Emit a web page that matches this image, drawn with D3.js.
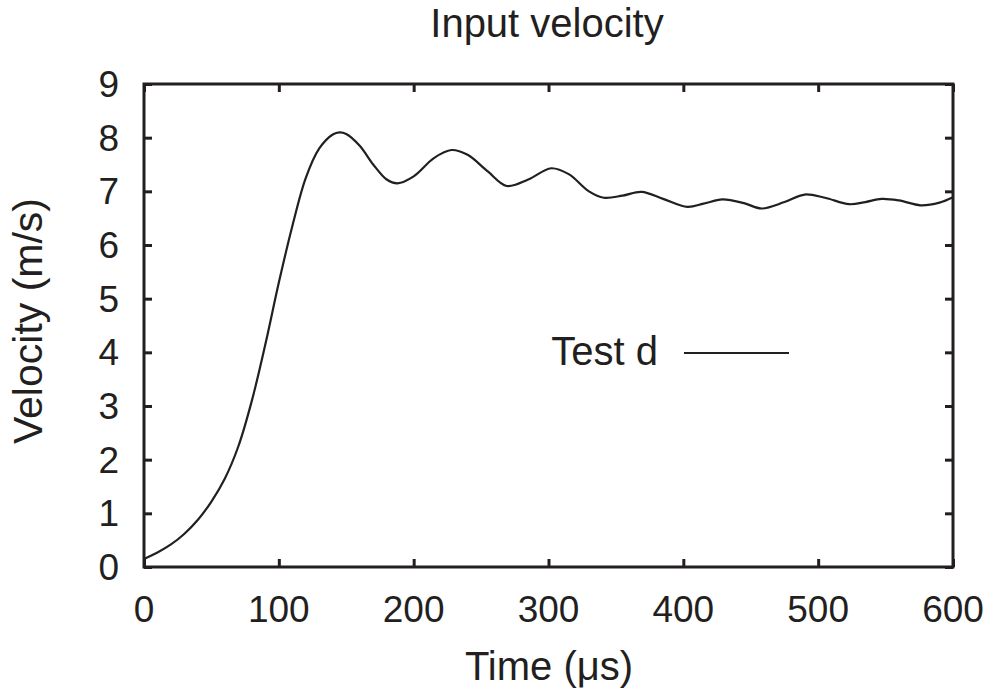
<!DOCTYPE html>
<html>
<head>
<meta charset="utf-8">
<script src="https://cdn.jsdelivr.net/npm/d3@7"></script>
<style>
  body { margin: 0; background: #fff; }
  text { font-family: "Liberation Sans", Arial, sans-serif; fill: #231f20; }
</style>
</head>
<body>
<div class="container"></div>
<script>
// data
const time = [0, 10, 20, 30, 40, 50, 60, 70, 80, 90, 100, 110, 120, 130, 140, 145, 150, 160, 170, 180, 188,
  200, 215, 228, 240, 255, 269, 285, 302, 315, 330, 341, 355, 369, 385, 403, 415, 429, 445, 458,
  475, 490, 505, 523, 535, 547, 560, 576, 590, 600];
const velocity = [0.15, 0.27, 0.42, 0.62, 0.88, 1.22, 1.65, 2.25, 3.1, 4.15, 5.3, 6.35, 7.25, 7.8, 8.06, 8.1, 8.07, 7.85, 7.5, 7.22, 7.15,
  7.28, 7.62, 7.77, 7.68, 7.37, 7.1, 7.22, 7.43, 7.32, 7.0, 6.88, 6.92, 6.99, 6.86, 6.71, 6.77, 6.85, 6.78, 6.68,
  6.8, 6.94, 6.88, 6.76, 6.8, 6.86, 6.83, 6.74, 6.79, 6.89];
const xTicks = [0, 100, 200, 300, 400, 500, 600];
const yTicks = [0, 1, 2, 3, 4, 5, 6, 7, 8, 9];
const seriesName = "Test d";

const width = 996;
const height = 695;
const mLeft = 144, mRight = 953, mTop = 84, mBottom = 567;

const x = d3.scaleLinear().domain([0, 600]).range([mLeft, mRight]);
const y = d3.scaleLinear().domain([0, 9]).range([mBottom, mTop]);

const svg = d3.select("div.container")
  .append("svg")
  .attr("width", width)
  .attr("height", height);

// axes with inward ticks, mirrored on top and right
const tickLen = 8;
svg.append("g").attr("transform", `translate(0,${mBottom})`)
  .call(d3.axisTop(x).tickValues(xTicks).tickSize(tickLen).tickFormat(""));
svg.append("g").attr("transform", `translate(0,${mTop})`)
  .call(d3.axisBottom(x).tickValues(xTicks).tickSize(tickLen).tickFormat(""));
svg.append("g").attr("transform", `translate(${mLeft},0)`)
  .call(d3.axisRight(y).tickValues(yTicks).tickSize(tickLen).tickFormat(""));
svg.append("g").attr("transform", `translate(${mRight},0)`)
  .call(d3.axisLeft(y).tickValues(yTicks).tickSize(tickLen).tickFormat(""));
svg.selectAll(".domain").remove();
svg.selectAll(".tick line").attr("stroke", "#231f20").attr("stroke-width", 3);

// frame
svg.append("rect")
  .attr("x", mLeft).attr("y", mTop)
  .attr("width", mRight - mLeft).attr("height", mBottom - mTop)
  .attr("fill", "none").attr("stroke", "#231f20").attr("stroke-width", 3);

// tick labels
svg.append("g").selectAll("text").data(xTicks).join("text")
  .attr("x", d => x(d)).attr("y", 622)
  .attr("text-anchor", "middle").attr("font-size", 37)
  .text(d => d);
svg.append("g").selectAll("text").data(yTicks).join("text")
  .attr("x", 119).attr("y", d => y(d) + 13)
  .attr("text-anchor", "end").attr("font-size", 37)
  .text(d => d);

// titles
svg.append("text").attr("x", 547).attr("y", 37)
  .attr("text-anchor", "middle").attr("font-size", 40).text("Input velocity");
svg.append("text").attr("x", 549).attr("y", 680)
  .attr("text-anchor", "middle").attr("font-size", 40).text("Time (\u03bcs)");
svg.append("text").attr("transform", "translate(42,321) rotate(-90)")
  .attr("text-anchor", "middle").attr("font-size", 41).text("Velocity (m/s)");

// curve
const line = d3.line()
  .x((d, i) => x(time[i]))
  .y(d => y(d))
  .curve(d3.curveCatmullRom);
svg.append("path")
  .datum(velocity)
  .attr("d", line)
  .attr("fill", "none")
  .attr("stroke", "#231f20")
  .attr("stroke-width", 2.2);

// legend
svg.append("text").attr("x", 658).attr("y", 365)
  .attr("text-anchor", "end").attr("font-size", 40).text(seriesName);
svg.append("line")
  .attr("x1", 684).attr("x2", 789).attr("y1", 353).attr("y2", 353)
  .attr("stroke", "#231f20").attr("stroke-width", 2);
</script>
</body>
</html>
